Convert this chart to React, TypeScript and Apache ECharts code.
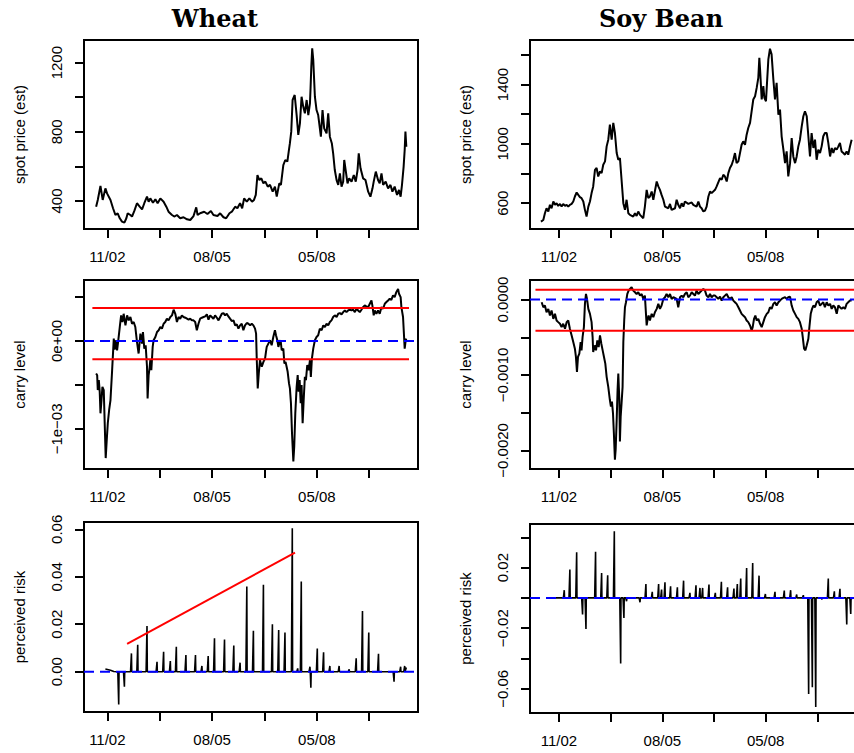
import React, { useEffect, useRef } from "react";
import * as echarts from "echarts";

// ---------------- data ----------------
// x = trading days since first observation
const xTickLabels = ["11/02", "", "08/05", "", "05/08", ""];
const wheatXTicks = [75, 425, 775, 1125, 1475, 1825];
const soyXTicks = [122, 472, 822, 1172, 1522, 1872];

const wheatPriceTicks = [400, 600, 800, 1000, 1200];
const wheatPriceLabels = ["400", "", "800", "", "1200"];
const soyPriceTicks = [600, 800, 1000, 1200, 1400, 1600];
const soyPriceLabels = ["600", "", "1000", "", "1400", ""];
const wheatCarryTicks = [-1e-3, -5e-4, 0, 5e-4];
const wheatCarryLabels = ["\u22121e\u221203", "", "0e+00", ""];
const soyCarryTicks = [-2e-3, -1.5e-3, -1e-3, -5e-4, 0];
const soyCarryLabels = ["\u22120.0020", "", "\u22120.0010", "", "0.0000"];
const wheatRiskTicks = [0, 0.02, 0.04, 0.06];
const wheatRiskLabels = ["0.00", "0.02", "0.04", "0.06"];
const soyRiskTicks = [-0.06, -0.04, -0.02, 0, 0.02, 0.04];
const soyRiskLabels = ["\u22120.06", "", "\u22120.02", "", "0.02", ""];

const wheatPrice: number[][] = [
  [0,367],[11,406],[29,487],[44,406],[62,473],[73,444],[96,406],[113,358],[129,319],[144,329],[158,300],[173,281],[189,275],[202,300],[211,329],[229,319],[240,310],[256,344],[273,387],[291,367],[307,352],[322,387],[340,425],[351,396],[362,415],[380,390],[396,410],[411,387],[429,415],[451,396],[469,367],[484,338],[507,319],[522,310],[540,319],[562,300],[584,306],[607,294],[629,290],[651,313],[669,363],[678,319],[695,329],[722,338],[744,325],[767,342],[784,319],[811,313],[829,329],[851,306],[869,300],[891,329],[907,338],[929,367],[944,358],[962,387],[976,358],[989,415],[1007,396],[1024,415],[1042,396],[1055,406],[1067,435],[1078,550],[1091,521],[1104,531],[1118,502],[1131,512],[1147,483],[1162,493],[1180,454],[1195,483],[1207,425],[1224,502],[1235,493],[1251,608],[1264,637],[1278,628],[1287,685],[1295,734],[1304,801],[1313,984],[1327,1013],[1340,897],[1351,782],[1362,849],[1373,1003],[1384,946],[1395,907],[1407,984],[1418,897],[1429,965],[1433,1052],[1438,1177],[1444,1283],[1451,1216],[1462,1003],[1473,926],[1484,897],[1491,849],[1502,772],[1513,926],[1524,820],[1540,791],[1551,907],[1562,772],[1575,734],[1584,676],[1595,579],[1607,521],[1618,493],[1629,560],[1640,483],[1651,512],[1658,637],[1669,570],[1680,502],[1691,531],[1707,512],[1722,550],[1735,512],[1747,579],[1755,676],[1767,589],[1784,531],[1800,521],[1818,454],[1833,425],[1847,473],[1855,512],[1869,570],[1884,521],[1895,502],[1907,560],[1918,493],[1935,512],[1951,473],[1967,493],[1980,454],[1995,483],[2011,435],[2024,464],[2035,425],[2044,493],[2055,599],[2062,695],[2067,801],[2073,714]
];

const soyPrice: number[][] = [
  [0,476],[16,487],[27,532],[38,566],[50,544],[61,589],[72,566],[84,611],[95,589],[106,600],[117,582],[129,595],[140,577],[151,595],[163,582],[174,589],[185,577],[196,589],[208,595],[219,611],[230,645],[242,672],[253,656],[264,641],[275,634],[287,611],[298,555],[309,510],[321,577],[332,611],[343,668],[354,713],[366,825],[377,837],[388,780],[400,814],[411,803],[422,859],[434,882],[445,983],[456,1028],[467,1130],[479,1028],[490,1141],[501,1073],[513,938],[524,893],[535,904],[546,758],[558,600],[569,555],[580,623],[592,532],[603,521],[625,510],[637,532],[648,514],[659,544],[671,521],[693,499],[704,577],[716,690],[727,634],[738,645],[750,679],[761,623],[784,746],[795,713],[806,690],[817,656],[829,623],[840,577],[863,566],[874,595],[885,555],[908,566],[919,623],[930,589],[942,566],[953,600],[964,577],[975,611],[998,595],[1021,605],[1032,589],[1054,577],[1066,611],[1077,577],[1088,566],[1100,544],[1111,550],[1122,577],[1134,645],[1145,679],[1156,668],[1179,690],[1190,713],[1213,769],[1224,758],[1235,792],[1246,780],[1258,746],[1269,803],[1280,837],[1292,859],[1303,893],[1314,938],[1325,870],[1337,882],[1359,994],[1370,1017],[1382,994],[1393,1062],[1404,1107],[1416,1141],[1427,1220],[1438,1299],[1450,1321],[1461,1377],[1472,1445],[1479,1580],[1484,1501],[1495,1299],[1506,1389],[1513,1310],[1524,1287],[1529,1377],[1540,1569],[1551,1641],[1562,1603],[1574,1434],[1585,1299],[1596,1411],[1608,1197],[1619,1231],[1630,1051],[1642,961],[1653,870],[1664,949],[1675,780],[1687,870],[1698,1039],[1709,915],[1721,870],[1732,915],[1743,983],[1754,1028],[1766,1118],[1777,1186],[1788,1220],[1800,1186],[1811,1051],[1822,915],[1833,1073],[1845,972],[1856,1028],[1867,893],[1878,961],[1890,938],[1901,983],[1912,1051],[1923,1073],[1935,1073],[1946,1006],[1958,915],[1969,972],[1980,938],[1991,972],[2003,961],[2014,983],[2025,1006],[2036,949],[2048,938],[2059,927],[2070,949],[2081,927],[2093,983],[2104,1028]
];

const wheatCarry: number[][] = [
  [0,-0.370e-3],[7,-0.389e-3],[11,-0.558e-3],[18,-0.445e-3],[24,-0.577e-3],[29,-0.823e-3],[36,-0.672e-3],[42,-0.521e-3],[51,-0.558e-3],[58,-0.974e-3],[64,-1.332e-3],[71,-1.125e-3],[78,-0.936e-3],[87,-0.785e-3],[96,-0.672e-3],[107,-0.332e-3],[118,0.026e-3],[124,-0.098e-3],[131,0.008e-3],[140,-0.106e-3],[147,-0.011e-3],[158,0.158e-3],[167,0.291e-3],[176,0.215e-3],[184,0.309e-3],[196,0.177e-3],[207,0.291e-3],[218,0.234e-3],[229,0.272e-3],[240,0.196e-3],[251,0.215e-3],[262,0.158e-3],[273,-0.011e-3],[284,-0.143e-3],[296,0.083e-3],[307,-0.030e-3],[313,0.102e-3],[322,-0.087e-3],[331,-0.049e-3],[340,-0.294e-3],[344,-0.653e-3],[351,-0.389e-3],[358,-0.294e-3],[362,-0.219e-3],[369,-0.332e-3],[378,-0.068e-3],[384,0.008e-3],[396,0.045e-3],[407,0.102e-3],[418,0.121e-3],[429,0.158e-3],[440,0.140e-3],[451,0.196e-3],[462,0.215e-3],[473,0.253e-3],[484,0.234e-3],[496,0.272e-3],[507,0.291e-3],[518,0.355e-3],[529,0.309e-3],[540,0.215e-3],[551,0.272e-3],[562,0.253e-3],[573,0.291e-3],[584,0.272e-3],[596,0.264e-3],[607,0.253e-3],[618,0.242e-3],[629,0.253e-3],[640,0.234e-3],[651,0.234e-3],[662,0.215e-3],[673,0.121e-3],[684,0.196e-3],[695,0.253e-3],[707,0.264e-3],[718,0.272e-3],[729,0.279e-3],[740,0.302e-3],[751,0.242e-3],[762,0.291e-3],[773,0.272e-3],[784,0.253e-3],[795,0.291e-3],[807,0.264e-3],[818,0.234e-3],[829,0.272e-3],[840,0.309e-3],[851,0.317e-3],[862,0.291e-3],[873,0.309e-3],[884,0.279e-3],[895,0.253e-3],[907,0.226e-3],[918,0.234e-3],[929,0.177e-3],[940,0.189e-3],[951,0.140e-3],[962,0.177e-3],[973,0.196e-3],[984,0.121e-3],[995,0.177e-3],[1007,0.204e-3],[1018,0.196e-3],[1029,0.177e-3],[1040,0.196e-3],[1051,0.177e-3],[1062,0.140e-3],[1069,0.083e-3],[1073,-0.181e-3],[1080,-0.540e-3],[1087,-0.370e-3],[1095,-0.219e-3],[1107,-0.294e-3],[1118,-0.238e-3],[1129,-0.200e-3],[1135,-0.125e-3],[1140,-0.068e-3],[1151,-0.030e-3],[1162,0.008e-3],[1173,-0.049e-3],[1184,0.045e-3],[1195,0.121e-3],[1202,0.064e-3],[1211,0.008e-3],[1218,-0.068e-3],[1224,-0.030e-3],[1233,0.008e-3],[1240,-0.106e-3],[1251,-0.087e-3],[1258,-0.257e-3],[1266,-0.238e-3],[1273,-0.294e-3],[1280,-0.351e-3],[1289,-0.483e-3],[1295,-0.540e-3],[1302,-0.709e-3],[1309,-1.049e-3],[1318,-1.370e-3],[1324,-1.200e-3],[1331,-0.823e-3],[1340,-0.521e-3],[1347,-0.389e-3],[1353,-0.577e-3],[1360,-0.445e-3],[1367,-0.709e-3],[1373,-0.502e-3],[1380,-0.936e-3],[1387,-0.672e-3],[1395,-0.408e-3],[1402,-0.445e-3],[1411,-0.275e-3],[1420,-0.332e-3],[1429,-0.219e-3],[1435,-0.408e-3],[1442,-0.200e-3],[1451,-0.087e-3],[1462,0.008e-3],[1473,0.045e-3],[1484,0.064e-3],[1495,0.140e-3],[1507,0.121e-3],[1518,0.177e-3],[1529,0.158e-3],[1540,0.196e-3],[1551,0.177e-3],[1562,0.215e-3],[1573,0.234e-3],[1584,0.272e-3],[1595,0.291e-3],[1607,0.272e-3],[1618,0.309e-3],[1629,0.317e-3],[1640,0.302e-3],[1651,0.328e-3],[1662,0.347e-3],[1673,0.328e-3],[1684,0.347e-3],[1695,0.355e-3],[1707,0.347e-3],[1718,0.355e-3],[1729,0.328e-3],[1740,0.366e-3],[1751,0.347e-3],[1762,0.328e-3],[1773,0.355e-3],[1784,0.385e-3],[1795,0.404e-3],[1806,0.392e-3],[1818,0.385e-3],[1829,0.423e-3],[1840,0.460e-3],[1846,0.404e-3],[1855,0.291e-3],[1862,0.347e-3],[1873,0.309e-3],[1884,0.347e-3],[1895,0.309e-3],[1907,0.385e-3],[1918,0.366e-3],[1929,0.423e-3],[1940,0.442e-3],[1951,0.460e-3],[1962,0.479e-3],[1973,0.468e-3],[1984,0.517e-3],[1995,0.498e-3],[2006,0.555e-3],[2018,0.592e-3],[2024,0.536e-3],[2035,0.498e-3],[2040,0.385e-3],[2051,0.272e-3],[2058,0.045e-3],[2062,-0.087e-3],[2069,0.008e-3],[2073,0.026e-3]
];

const soyCarry: number[][] = [
  [5,-0.035e-3],[16,-0.101e-3],[27,-0.079e-3],[38,-0.167e-3],[50,-0.123e-3],[61,-0.211e-3],[72,-0.145e-3],[84,-0.255e-3],[95,-0.189e-3],[106,-0.277e-3],[117,-0.299e-3],[129,-0.321e-3],[140,-0.365e-3],[151,-0.321e-3],[163,-0.387e-3],[174,-0.299e-3],[185,-0.277e-3],[196,-0.387e-3],[208,-0.475e-3],[219,-0.563e-3],[230,-0.651e-3],[237,-0.761e-3],[244,-0.959e-3],[251,-0.761e-3],[260,-0.717e-3],[269,-0.563e-3],[275,-0.673e-3],[282,-0.497e-3],[291,-0.365e-3],[298,-0.057e-3],[305,0.075e-3],[312,0.009e-3],[321,-0.123e-3],[332,-0.189e-3],[343,-0.299e-3],[350,-0.497e-3],[354,-0.695e-3],[364,-0.607e-3],[373,-0.673e-3],[382,-0.541e-3],[391,-0.629e-3],[400,-0.475e-3],[409,-0.585e-3],[418,-0.673e-3],[427,-0.761e-3],[436,-0.849e-3],[445,-1.025e-3],[456,-1.157e-3],[467,-1.332e-3],[474,-1.420e-3],[481,-1.354e-3],[488,-1.508e-3],[494,-1.772e-3],[501,-2.124e-3],[506,-1.992e-3],[513,-1.596e-3],[519,-1.201e-3],[524,-0.981e-3],[531,-1.332e-3],[535,-1.882e-3],[540,-1.552e-3],[546,-1.376e-3],[553,-1.157e-3],[558,-0.563e-3],[564,-0.277e-3],[569,-0.101e-3],[576,-0.035e-3],[585,0.075e-3],[594,0.119e-3],[603,0.141e-3],[614,0.163e-3],[625,0.119e-3],[637,0.097e-3],[648,0.075e-3],[659,0.097e-3],[671,0.053e-3],[682,0.075e-3],[693,0.009e-3],[704,0.053e-3],[716,-0.343e-3],[723,-0.255e-3],[729,-0.211e-3],[738,-0.277e-3],[750,-0.189e-3],[761,-0.233e-3],[772,-0.167e-3],[784,-0.123e-3],[795,-0.057e-3],[806,-0.123e-3],[817,-0.079e-3],[829,0.009e-3],[840,0.031e-3],[851,0.075e-3],[863,0.031e-3],[874,0.075e-3],[885,0.009e-3],[897,0.031e-3],[919,0.009e-3],[930,-0.101e-3],[942,0.031e-3],[953,0.053e-3],[964,0.031e-3],[975,0.075e-3],[987,0.097e-3],[998,0.031e-3],[1009,0.053e-3],[1021,0.097e-3],[1032,0.075e-3],[1043,0.053e-3],[1054,0.119e-3],[1066,0.075e-3],[1077,0.097e-3],[1088,0.119e-3],[1100,0.141e-3],[1111,0.119e-3],[1122,0.053e-3],[1134,0.031e-3],[1145,0.075e-3],[1156,0.031e-3],[1167,0.053e-3],[1179,0.053e-3],[1190,0.031e-3],[1201,0.009e-3],[1213,0.040e-3],[1224,-0.013e-3],[1235,0.031e-3],[1246,0.053e-3],[1258,0.075e-3],[1269,0.031e-3],[1280,0.009e-3],[1292,0.031e-3],[1303,-0.013e-3],[1314,-0.035e-3],[1325,-0.057e-3],[1337,-0.101e-3],[1348,-0.145e-3],[1359,-0.189e-3],[1370,-0.211e-3],[1382,-0.233e-3],[1393,-0.277e-3],[1404,-0.299e-3],[1416,-0.343e-3],[1427,-0.409e-3],[1434,-0.365e-3],[1443,-0.255e-3],[1452,-0.211e-3],[1461,-0.277e-3],[1472,-0.255e-3],[1484,-0.321e-3],[1495,-0.365e-3],[1506,-0.299e-3],[1517,-0.233e-3],[1529,-0.189e-3],[1540,-0.167e-3],[1551,-0.101e-3],[1562,-0.123e-3],[1574,-0.057e-3],[1585,-0.035e-3],[1596,-0.079e-3],[1608,-0.035e-3],[1619,-0.013e-3],[1630,0.009e-3],[1642,0.022e-3],[1653,0.031e-3],[1664,0.009e-3],[1675,0.031e-3],[1687,0.040e-3],[1698,-0.079e-3],[1709,-0.145e-3],[1721,-0.189e-3],[1732,-0.233e-3],[1743,-0.255e-3],[1754,-0.299e-3],[1766,-0.387e-3],[1773,-0.497e-3],[1782,-0.651e-3],[1791,-0.673e-3],[1800,-0.607e-3],[1811,-0.519e-3],[1818,-0.365e-3],[1827,-0.189e-3],[1836,-0.123e-3],[1845,-0.079e-3],[1856,-0.101e-3],[1867,-0.035e-3],[1878,-0.013e-3],[1890,-0.079e-3],[1901,-0.057e-3],[1912,-0.035e-3],[1923,-0.101e-3],[1935,-0.035e-3],[1946,-0.079e-3],[1958,-0.057e-3],[1969,-0.123e-3],[1980,-0.079e-3],[1991,-0.101e-3],[2003,-0.189e-3],[2014,-0.079e-3],[2025,-0.101e-3],[2036,-0.123e-3],[2048,-0.101e-3],[2059,-0.123e-3],[2070,-0.057e-3],[2081,-0.035e-3],[2093,-0.013e-3],[2104,-0.013e-3]
];

// carry bands
const wheatCarryBands = [3.74e-4, -2.07e-4];
const wheatBandSpan = [-25, 2091];
const soyCarryBands = [1.32e-4, -4.13e-4];
const soyBandSpan = [-37, 2250];

// perceived risk: leading values, then spikes [day, height], then last value
const wheatRiskLead: number[][] = [[62, 0.0011], [96, 0.0006], [118, 0.0001]];
const wheatRiskSpikes: number[][] = [
  [151,-0.0138],[189,-0.0063],[236,0.0077],[278,0.0113],[340,0.0193],[407,0.0042],[451,0.0084],[496,0.0045],[536,0.0105],[600,0.0070],[664,0.0070],[707,0.0024],[749,0.0066],[791,0.0141],[858,0.0136],[920,0.0110],[962,0.0038],[1007,0.0359],[1051,0.0172],[1118,0.0366],[1178,0.0200],[1220,0.0176],[1262,0.0165],[1311,0.0605],[1347,0.0014],[1371,0.0380],[1429,0.0021],[1435,-0.0068],[1478,0.0098],[1520,0.0082],[1562,0.0024],[1624,0.0024],[1691,0.0010],[1738,0.0056],[1780,0.0256],[1822,0.0165],[1887,0.0075],[1991,-0.0042],[2035,0.0021],[2062,0.0024]
];
const wheatRiskLast = [2073, 0.0018];
const wheatRiskTrend: number[][] = [[207, 0.01169], [1329, 0.0502]];

const soyRiskLead: number[][] = [[70, 0]];
const soyRiskSpikes: number[][] = [
  [158,0.0051],[196,0.0187],[242,0.0301],[282,-0.0110],[305,-0.0205],[370,0.0304],[411,0.0165],[452,0.0150],[497,0.0440],[540,-0.0433],[562,-0.0132],[580,-0.0022],[671,-0.0029],[711,0.0092],[754,0.0040],[797,0.0092],[817,0.0055],[840,0.0103],[878,0.0077],[924,0.0070],[966,0.0114],[1009,0.0033],[1050,0.0084],[1077,0.0066],[1095,0.0066],[1138,0.0088],[1181,0.0033],[1222,0.0106],[1264,0.0070],[1307,0.0062],[1330,0.0092],[1353,0.0128],[1393,0.0198],[1434,0.0231],[1477,0.0147],[1520,0.0026],[1585,0.0040],[1648,0.0048],[1691,0.0051],[1732,0.0022],[1777,0.0018],[1813,-0.0634],[1838,-0.0590],[1861,-0.0720],[1903,-0.0009],[1946,0.0128],[1987,0.0044],[2025,0.0060],[2071,-0.0176],[2098,-0.0106]
];
const soyRiskLast = [2104, -0.001];

// ---------------- chart ----------------
const FONT = "'Liberation Sans', Arial, Helvetica, sans-serif";

function labelFor(v: number, ticks: number[], labels: string[]) {
  for (let i = 0; i < ticks.length; i++) {
    if (Math.abs(ticks[i] - v) <= 1e-12 + 1e-9 * Math.abs(ticks[i])) return labels[i];
  }
  return "";
}

function spikeData(lead: number[][], spikes: number[][], last: number[]) {
  const out: number[][] = lead.map((p) => [p[0], p[1]]);
  spikes.forEach(([d, h]) => {
    out.push([d - 6, 0], [d, h], [d + 2, 0]);
  });
  out.push([last[0], last[1]]);
  return out;
}

function makeX(gridIndex: number, ticks: number[], min: number, max: number) {
  return {
    type: "value",
    gridIndex,
    min,
    max,
    axisLine: { show: true, onZero: false, lineStyle: { color: "#000", width: 2 } },
    axisTick: { show: true, inside: false, length: 9, customValues: ticks, lineStyle: { color: "#000", width: 2 } },
    axisLabel: {
      show: true,
      customValues: ticks.filter((_, i) => xTickLabels[i] !== ""),
      margin: 20,
      color: "#000",
      fontSize: 15,
      fontFamily: FONT,
      formatter: (v: number) => labelFor(v, ticks, xTickLabels),
    },
    splitLine: { show: false },
  };
}

function makeY(gridIndex: number, name: string, ticks: number[], labels: string[], min: number, max: number) {
  return {
    type: "value",
    gridIndex,
    min,
    max,
    name,
    nameLocation: "middle",
    nameRotate: 90,
    nameGap: 57,
    nameTextStyle: { color: "#000", fontSize: 15, fontFamily: FONT },
    axisLine: { show: true, onZero: false, lineStyle: { color: "#000", width: 2 } },
    axisTick: { show: true, inside: false, length: 9, customValues: ticks, lineStyle: { color: "#000", width: 2 } },
    axisLabel: {
      show: true,
      rotate: 90,
      customValues: ticks.filter((_, i) => labels[i] !== ""),
      margin: 20,
      color: "#000",
      fontSize: 15,
      fontFamily: FONT,
      formatter: (v: number) => labelFor(v, ticks, labels),
    },
    splitLine: { show: false },
  };
}

const WX = [-81, 2151];
const SX = [-74, 2181];

function line(xi: number, data: number[][], color: string, width: number, dashed = false) {
  return {
    type: "line",
    xAxisIndex: xi,
    yAxisIndex: xi,
    data,
    showSymbol: false,
    symbol: "none",
    lineStyle: { color, width, type: dashed ? [10, 6] : "solid" },
    silent: true,
    z: dashed ? 4 : 3,
  };
}

function buildOption() {
  const gridBase = { show: true, borderColor: "#000", borderWidth: 2, backgroundColor: "transparent", containLabel: false, outerBoundsMode: "none" };
  return {
    animation: false,
    backgroundColor: "#fff",
    graphic: [
      { type: "text", x: 215, y: 18, style: { text: "Wheat", fontFamily: "'DejaVu Serif', serif", fontWeight: "bold", fontSize: 24, fill: "#000", align: "center", verticalAlign: "middle" } },
      { type: "text", x: 661, y: 18, style: { text: "Soy Bean", fontFamily: "'DejaVu Serif', serif", fontWeight: "bold", fontSize: 24, fill: "#000", align: "center", verticalAlign: "middle" } },
    ],
    grid: [
      { ...gridBase, left: 84, top: 40, width: 334, height: 189 },
      { ...gridBase, left: 530, top: 40, width: 333, height: 189 },
      { ...gridBase, left: 84, top: 280, width: 334, height: 189 },
      { ...gridBase, left: 530, top: 280, width: 333, height: 189 },
      { ...gridBase, left: 84, top: 522, width: 334, height: 190 },
      { ...gridBase, left: 530, top: 524, width: 333, height: 189 },
    ],
    xAxis: [
      makeX(0, wheatXTicks, WX[0], WX[1]),
      makeX(1, soyXTicks, SX[0], SX[1]),
      makeX(2, wheatXTicks, WX[0], WX[1]),
      makeX(3, soyXTicks, SX[0], SX[1]),
      makeX(4, wheatXTicks, WX[0], WX[1]),
      makeX(5, soyXTicks, SX[0], SX[1]),
    ],
    yAxis: [
      makeY(0, "spot price (est)", wheatPriceTicks, wheatPriceLabels, 238, 1331),
      makeY(1, "spot price (est)", soyPriceTicks, soyPriceLabels, 426, 1700),
      makeY(2, "carry level", wheatCarryTicks, wheatCarryLabels, -1.456e-3, 6.93e-4),
      makeY(3, "carry level", soyCarryTicks, soyCarryLabels, -2.247e-3, 2.6e-4),
      makeY(4, "perceived risk", wheatRiskTicks, wheatRiskLabels, -0.017, 0.0631),
      makeY(5, "perceived risk", soyRiskTicks, soyRiskLabels, -0.076, 0.0488),
    ],
    series: [
      line(0, wheatPrice, "#000", 2),
      line(1, soyPrice, "#000", 2),
      line(2, wheatCarry, "#000", 2),
      ...wheatCarryBands.map((b) => line(2, [[wheatBandSpan[0], b], [wheatBandSpan[1], b]], "#ff0000", 2)),
      line(2, [[WX[0], 0], [WX[1], 0]], "#0000ff", 2, true),
      line(3, soyCarry, "#000", 2),
      ...soyCarryBands.map((b) => line(3, [[soyBandSpan[0], b], [soyBandSpan[1], b]], "#ff0000", 2)),
      line(3, [[SX[0], 0], [SX[1], 0]], "#0000ff", 2, true),
      line(4, spikeData(wheatRiskLead, wheatRiskSpikes, wheatRiskLast), "#000", 1.6),
      line(4, wheatRiskTrend, "#ff0000", 2),
      line(4, [[WX[0], 0], [WX[1], 0]], "#0000ff", 2, true),
      line(5, spikeData(soyRiskLead, soyRiskSpikes, soyRiskLast), "#000", 1.6),
      line(5, [[SX[0], 0], [SX[1], 0]], "#0000ff", 2, true),
    ],
  };
}

export default function App() {
  const ref = useRef<HTMLDivElement>(null);
  useEffect(() => {
    document.body.style.margin = "0";
    const chart = echarts.init(ref.current as HTMLDivElement, null, { renderer: "svg" });
    chart.setOption(buildOption() as any);
    return () => chart.dispose();
  }, []);
  return <div ref={ref} style={{ position: "absolute", left: 0, top: 0, width: 854, height: 753, background: "#fff" }} />;
}
